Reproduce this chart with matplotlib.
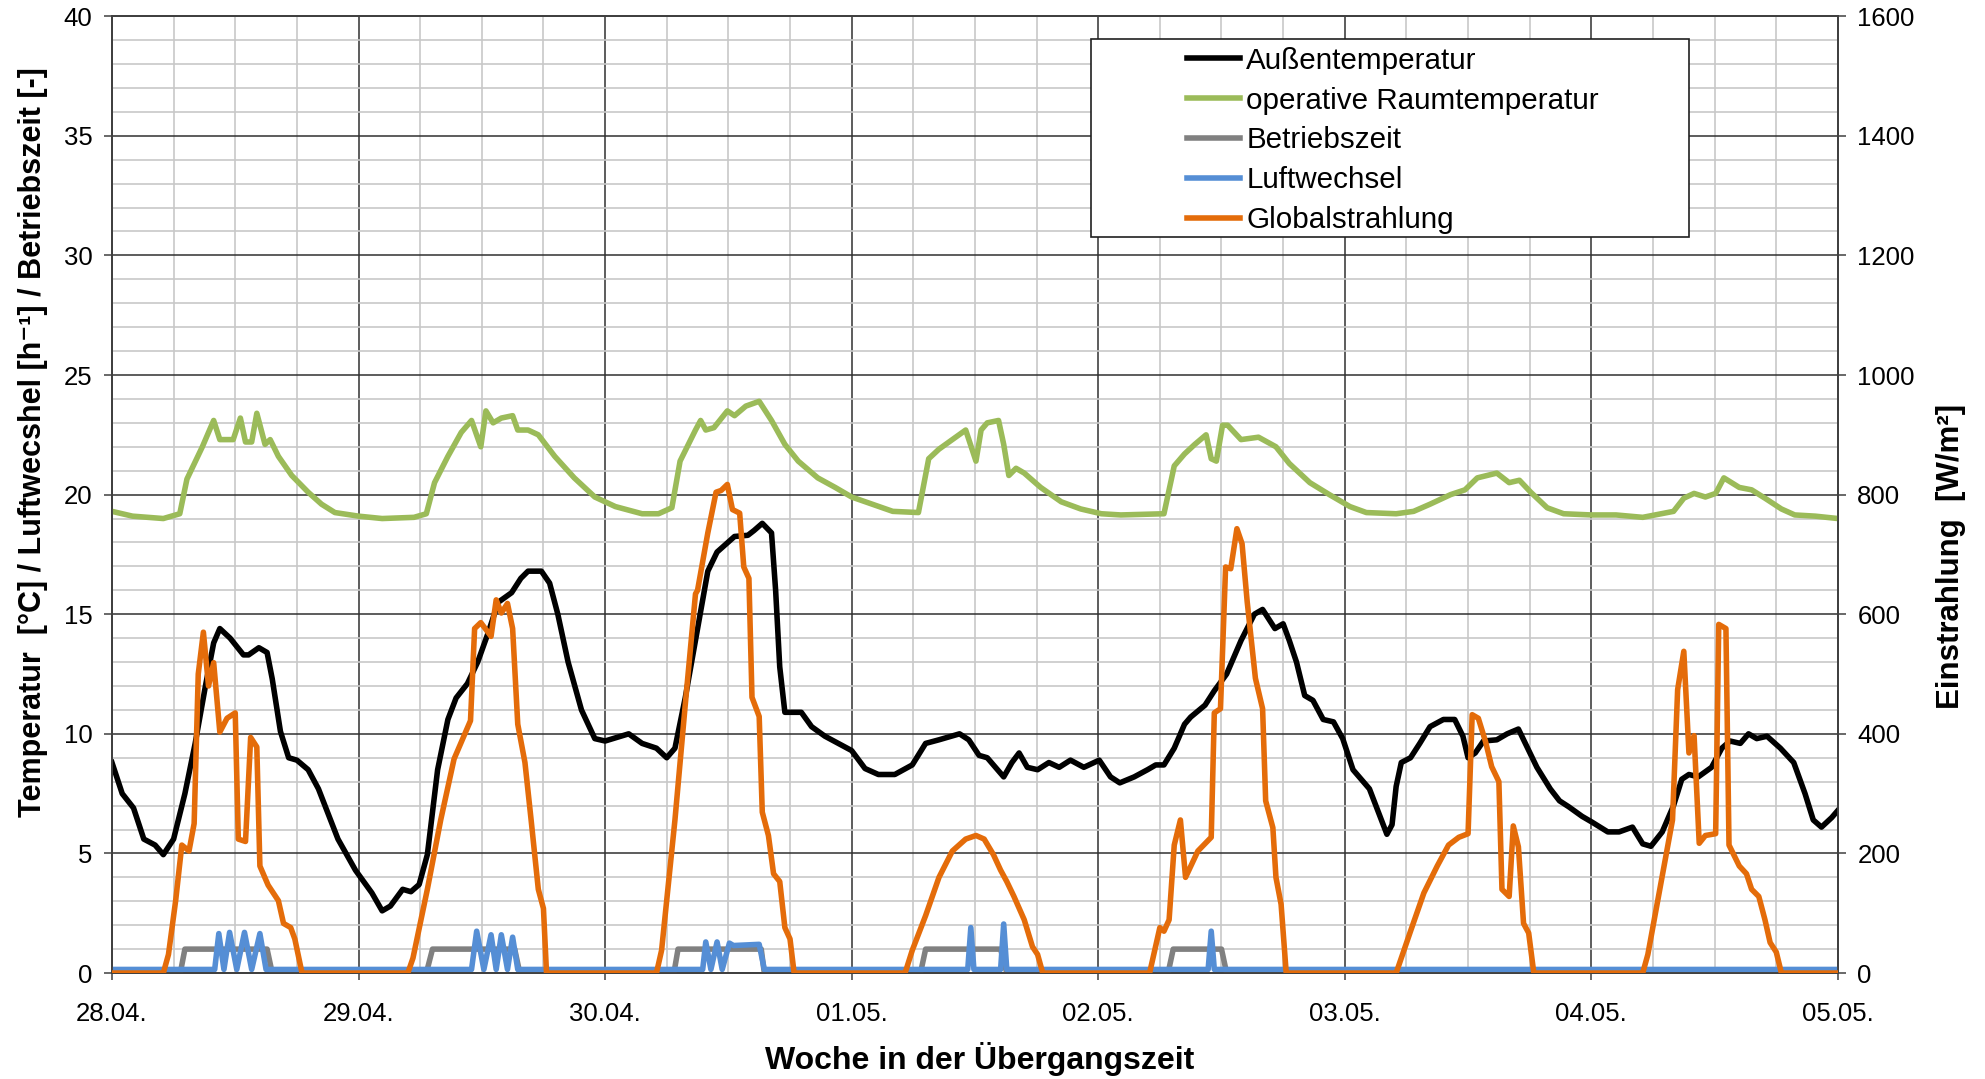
import numpy as np
import matplotlib
matplotlib.use("Agg")
import matplotlib.pyplot as plt
from matplotlib.patches import Rectangle

plt.rcParams['font.family'] = ['Liberation Sans', 'DejaVu Sans']

# ---------------- data (time in hours from 28.04. 00:00) ----------------
day_labels = ['28.04.', '29.04.', '30.04.', '01.05.', '02.05.', '03.05.', '04.05.', '05.05.']

t_aussen = [0, 1, 2.1, 3.1, 4.2, 5, 6, 7.1, 8.1, 9.1, 9.9, 10.5, 11.5, 12.8, 13.3, 14.3, 15.1, 15.6,
            16.4, 17.2, 18, 19.1, 20.1, 22, 23.7, 25.3, 26.3, 27.1, 28.3, 29.1, 29.9, 30.7, 31.7,
            32.7, 33.5, 34.6, 35.6, 36.6, 37.6, 38.9, 39.8, 40.5, 41.8, 42.6, 43.4, 44.4, 45.7, 47,
            48, 50.3, 51.6, 53, 54, 54.8, 55.8, 57, 58, 58.9, 60.6, 61.9, 62.5, 63.3, 64.2, 64.6, 65,
            65.5, 67.1, 68.1, 69.4, 70.7, 72, 73.3, 74.6, 76.2, 77.9, 79.2, 80.5, 82.5, 83.4, 84.4,
            85.2, 86.8, 87.6, 88.3, 89.1, 90.1, 91.2, 92.2, 93.3, 94.6, 96.1, 97.2, 98.1, 99.5, 100.8,
            101.6, 102.4, 103.4, 104.4, 105, 106.4, 107.3, 108.5, 109.9, 111.2, 112, 113.2, 114,
            114.6, 115.3, 116.1, 116.9, 117.9, 118.9, 119.8, 120.8, 121.6, 122.4, 123.3, 124.1, 124.6,
            125, 125.5, 126.4, 127.3, 128.3, 129.6, 130.7, 131.5, 132, 132.7, 133.5, 134.8, 135.8,
            136.9, 137.8, 138.7, 140, 140.9, 141.8, 143.1, 144.1, 145.6, 146.7, 148, 149, 149.8,
            150.9, 152, 152.8, 153.5, 154.4, 155.7, 156.7, 157.5, 158.5, 159.3, 160.1, 161.1, 162.4,
            163.7, 164.8, 165.6, 166.4, 167.4, 168]
aussentemperatur = [8.8, 7.5, 6.9, 5.6, 5.35, 4.95, 5.6, 7.5, 9.6, 12.0, 13.8, 14.4, 14.0, 13.3, 13.3,
                    13.6, 13.4, 12.3, 10.1, 9.0, 8.9, 8.5, 7.7, 5.6, 4.3, 3.35, 2.6, 2.8, 3.5, 3.4, 3.7,
                    4.95, 8.5, 10.6, 11.5, 12.1, 13.0, 14.2, 15.5, 15.9, 16.5, 16.8, 16.8, 16.3, 15.0,
                    13.0, 11.0, 9.8, 9.7, 10.0, 9.6, 9.4, 9.0, 9.4, 11.5, 14.4, 16.8, 17.6, 18.25, 18.3,
                    18.5, 18.8, 18.4, 16.0, 12.8, 10.9, 10.9, 10.3, 9.9, 9.6, 9.3, 8.55, 8.3, 8.3, 8.7,
                    9.6, 9.75, 10.0, 9.75, 9.1, 9.0, 8.2, 8.8, 9.2, 8.6, 8.5, 8.8, 8.6, 8.9, 8.6, 8.9,
                    8.2, 7.95, 8.2, 8.5, 8.7, 8.7, 9.4, 10.4, 10.7, 11.2, 11.8, 12.5, 13.9, 15.0, 15.2,
                    14.4, 14.6, 13.9, 13.0, 11.6, 11.4, 10.6, 10.5, 9.8, 8.5, 8.1, 7.7, 6.7, 5.8, 6.2,
                    7.8, 8.8, 9.0, 9.6, 10.3, 10.6, 10.6, 9.9, 9.0, 9.2, 9.7, 9.75, 10.0, 10.2, 9.4,
                    8.6, 7.7, 7.2, 6.95, 6.55, 6.3, 5.9, 5.9, 6.1, 5.4, 5.3, 5.9, 7.0, 8.1, 8.3, 8.2,
                    8.6, 9.4, 9.7, 9.6, 10.0, 9.8, 9.9, 9.4, 8.8, 7.5, 6.4, 6.1, 6.5, 6.8]

t_raum = [0, 2, 5, 6.6, 7.3, 8.8, 9.9, 10.5, 11.8, 12.5, 13.0, 13.6, 14.1, 14.9, 15.4, 16.2, 17.5,
          19.1, 20.4, 21.7, 24, 26.3, 29.4, 30.6, 31.4, 32.7, 34, 35, 35.9, 36.4, 37.1, 37.9, 39,
          39.5, 40.5, 41.5, 43.1, 45, 47, 49, 51.6, 53.2, 54.5, 55.3, 56.8, 57.3, 57.8, 58.6, 59.9,
          60.6, 61.7, 63, 64.2, 65.5, 66.8, 68.7, 70.4, 72, 74, 76, 78.5, 79.5, 80.5, 81.8, 83.1,
          84.1, 84.6, 85.2, 86.3, 86.8, 87.3, 88, 88.8, 90.4, 92.4, 94.3, 96.3, 98.2, 102.4, 103.4,
          104.4, 105.4, 106.5, 107, 107.5, 108.1, 108.6, 109.9, 111.6, 113.3, 114.6, 116.6, 118.5,
          120.5, 122.1, 125, 126.7, 128.3, 130.3, 131.7, 132.9, 134.8, 136, 137, 138.1, 139.7,
          141.3, 144, 146.4, 149, 152, 153, 154, 155.1, 156.1, 156.9, 158.4, 159.6, 160.9, 162.5,
          163.8, 165.8, 168]
raumtemperatur = [19.3, 19.1, 19.0, 19.2, 20.65, 22.0, 23.1, 22.3, 22.3, 23.2, 22.2, 22.2, 23.4, 22.1,
                  22.3, 21.6, 20.8, 20.1, 19.6, 19.25, 19.1, 19.0, 19.05, 19.2, 20.5, 21.6, 22.6,
                  23.1, 22.0, 23.5, 23.0, 23.2, 23.3, 22.7, 22.7, 22.5, 21.6, 20.7, 19.9, 19.5, 19.2,
                  19.2, 19.45, 21.4, 22.7, 23.1, 22.7, 22.8, 23.5, 23.3, 23.7, 23.9, 23.1, 22.1, 21.4,
                  20.7, 20.3, 19.9, 19.6, 19.3, 19.25, 21.5, 21.9, 22.3, 22.7, 21.4, 22.7, 23.0, 23.1,
                  22.1, 20.8, 21.1, 20.9, 20.3, 19.7, 19.4, 19.2, 19.15, 19.2, 21.2, 21.7, 22.1, 22.5,
                  21.5, 21.4, 22.9, 22.9, 22.3, 22.4, 22.0, 21.3, 20.5, 20.0, 19.5, 19.25, 19.2, 19.3,
                  19.6, 20.0, 20.2, 20.7, 20.9, 20.5, 20.6, 20.1, 19.45, 19.2, 19.15, 19.15, 19.05,
                  19.3, 19.85, 20.05, 19.9, 20.05, 20.7, 20.3, 20.2, 19.85, 19.4, 19.15, 19.1, 19.0]

t_betrieb = [0, 6.65, 7.1, 15.1, 15.6, 30.6, 31.2, 39.2, 39.7, 54.7, 55.1, 63.2, 63.5, 78.7, 79.2,
             86.5, 87.1, 102.8, 103.3, 108, 108.5, 168]
betriebszeit = [0, 0, 1, 1, 0, 0, 1, 1, 0, 0, 1, 1, 0, 0, 1, 1, 0, 0, 1, 1, 0, 0]

t_luft = [0, 10.0, 10.4, 10.9, 11.45, 12.15, 12.9, 13.6, 14.4, 15.0,
          35.0, 35.5, 36.2, 36.9, 37.4, 37.9, 38.5, 39.0, 39.5,
          57.5, 57.8, 58.3, 58.9, 59.4, 60.1, 60.5, 63.0, 63.5,
          83.3, 83.6, 83.9, 86.5, 86.8, 87.1, 106.7, 107.0, 107.3, 168]
luftwechsel = [0.15, 0.15, 1.65, 0.15, 1.7, 0.15, 1.7, 0.15, 1.65, 0.15,
               0.15, 1.75, 0.15, 1.6, 0.15, 1.6, 0.15, 1.5, 0.15,
               0.15, 1.3, 0.15, 1.3, 0.15, 1.25, 1.15, 1.2, 0.15,
               0.15, 1.9, 0.15, 0.15, 2.05, 0.15, 0.15, 1.75, 0.15, 0.15]

t_strahlung = [0, 5, 5.5, 6.2, 6.8, 7.5, 8, 8.4, 8.9, 9.4, 9.9, 10.5, 11.2, 12, 12.3, 13, 13.5, 14.1,
               14.4, 15.2, 16.2, 16.7, 17.4, 17.8, 18.5,
               28.8, 29.3, 30.7, 32, 33.3, 34.9, 35.3, 35.9, 36.9, 37.4, 37.9, 38.5, 39, 39.5, 40.2,
               40.8, 41.5, 42, 42.3,
               53, 53.5, 54.8, 55.8, 56.8, 57, 58, 58.8, 59.3, 59.9, 60.4, 61.1, 61.5, 62, 62.3, 63,
               63.3, 63.9, 64.4, 65, 65.5, 66, 66.4,
               77.2, 77.9, 79.2, 80.5, 81.8, 83.1, 84.1, 84.9, 85.8, 86.5, 87.1, 87.8, 88.8, 89.6,
               90.1, 90.6,
               101, 102, 102.4, 102.9, 103.4, 104, 104.5, 105.7, 107, 107.3, 107.9, 108.4, 108.9,
               109.5, 110, 110.5, 111.3, 112, 112.3, 113, 113.3, 113.8, 114.3,
               125, 126.4, 127.7, 129, 130.1, 131.1, 132, 132.4, 133, 133.7, 134.3, 135, 135.3, 136,
               136.4, 136.9, 137.4, 137.9, 138.4,
               149, 149.5, 150.6, 151.9, 152.4, 153, 153.5, 154, 154.5, 155.1, 156.1, 156.4, 157.1,
               157.4, 158.4, 159.1, 159.6, 160.3, 160.9, 161.4, 162, 162.5, 168]
globalstrahlung = [0, 0, 31, 121, 214, 204, 250, 500, 570, 480, 519, 403, 426, 435, 224, 220, 394, 378,
                   179, 147, 121, 83, 76, 57, 0,
                   0, 25, 140, 256, 358, 422, 576, 586, 563, 624, 602, 618, 576, 416, 352,
                   256, 140, 108, 0,
                   0, 38, 256, 448, 634, 640, 736, 804, 807, 817, 775, 769, 679, 660, 461, 429,
                   269, 230, 166, 153, 76, 57, 0,
                   0, 38, 96, 160, 204, 224, 230, 224, 198, 172, 153, 128, 89, 44,
                   31, 0,
                   0, 76, 70, 89, 214, 256, 160, 204, 227, 435, 442, 679, 676,
                   743, 718, 621, 493, 442, 288, 243, 160, 115, 0,
                   0, 70, 134, 179, 214, 227, 233, 432, 426, 387, 345, 320, 140, 128,
                   246, 211, 83, 67, 0,
                   0, 31, 134, 256, 474, 538, 368, 397, 217, 230, 233, 583, 576,
                   214, 179, 166, 140, 128, 89, 51, 35, 0, 0]

# ---------------- figure ----------------
fig = plt.figure(figsize=(19.85, 10.79), dpi=100)
ax = fig.add_axes([0.0564, 0.0982, 0.8695, 0.8868])
ax2 = ax.twinx()

c_black = '#000000'
c_green = '#9BBB59'
c_gray = '#808080'
c_blue = '#558ED5'
c_orange = '#E46C0A'
lw = 4.0

l1, = ax.plot(t_aussen, aussentemperatur, color=c_black, lw=lw, solid_joinstyle='round', zorder=3)
l2, = ax.plot(t_raum, raumtemperatur, color=c_green, lw=lw, solid_joinstyle='round', zorder=3)
l3, = ax.plot(t_betrieb, betriebszeit, color=c_gray, lw=lw, solid_joinstyle='round', zorder=3)
l4, = ax.plot(t_luft, luftwechsel, color=c_blue, lw=lw, solid_joinstyle='round', zorder=4)
l5, = ax2.plot(t_strahlung, globalstrahlung, color=c_orange, lw=lw, solid_joinstyle='round', zorder=3)

ax.set_xlim(0, 168)
ax.set_ylim(0, 40)
ax2.set_ylim(0, 1600)

ax.set_xticks(np.arange(0, 169, 24))
ax.set_xticklabels(day_labels)
ax.set_xticks(np.arange(0, 169, 6), minor=True)
ax.set_yticks(np.arange(0, 41, 5))
ax.set_yticks(np.arange(0, 41, 1), minor=True)
ax2.set_yticks(np.arange(0, 1601, 200))

ax.set_axisbelow(True)
ax.grid(which='minor', color='#c8c8c8', lw=1.2)
ax.grid(which='major', color='#303030', lw=1.1)

tick_fs = 18.5
ax.tick_params(axis='y', which='major', labelsize=tick_fs, length=6, width=1.1, color='#404040', pad=8)
ax.tick_params(axis='x', which='major', labelsize=tick_fs, length=5, width=1.1, color='#404040', pad=16)
ax.tick_params(which='minor', length=0)
ax2.tick_params(axis='y', labelsize=tick_fs, length=6, width=1.1, color='#404040', pad=8)

for a in (ax, ax2):
    for s in a.spines.values():
        s.set_color('#404040')
        s.set_linewidth(1.3)

ax.set_ylabel('Temperatur  [°C] / Luftwecshel [h⁻¹] / Betriebszeit [-]', fontsize=22, fontweight='bold')
ax.yaxis.set_label_coords(-0.037, 0.555)
ax2.set_ylabel('Einstrahlung  [W/m²]', fontsize=22.5, fontweight='bold')
ax2.yaxis.set_label_coords(1.057, 0.435)
ax.set_xlabel('Woche in der Übergangszeit', fontsize=23, fontweight='bold')
ax.xaxis.set_label_coords(0.503, -0.072)

# legend frame and legend
frame = Rectangle((0.567, 0.769), 0.347, 0.207, transform=ax2.transAxes, facecolor='white',
                  edgecolor='#202020', lw=1.2, zorder=10)
ax2.add_patch(frame)
leg = ax2.legend([l1, l2, l3, l4, l5],
                 ['Außentemperatur', 'operative Raumtemperatur', 'Betriebszeit', 'Luftwechsel',
                  'Globalstrahlung'],
                 loc='upper left', bbox_to_anchor=(0.623, 0.968), frameon=False, fontsize=21.3,
                 handlelength=1.8, handletextpad=0.2, labelspacing=0.40, borderpad=0, borderaxespad=0)
leg.set_zorder(11)

fig.savefig('out.png', dpi=100)
